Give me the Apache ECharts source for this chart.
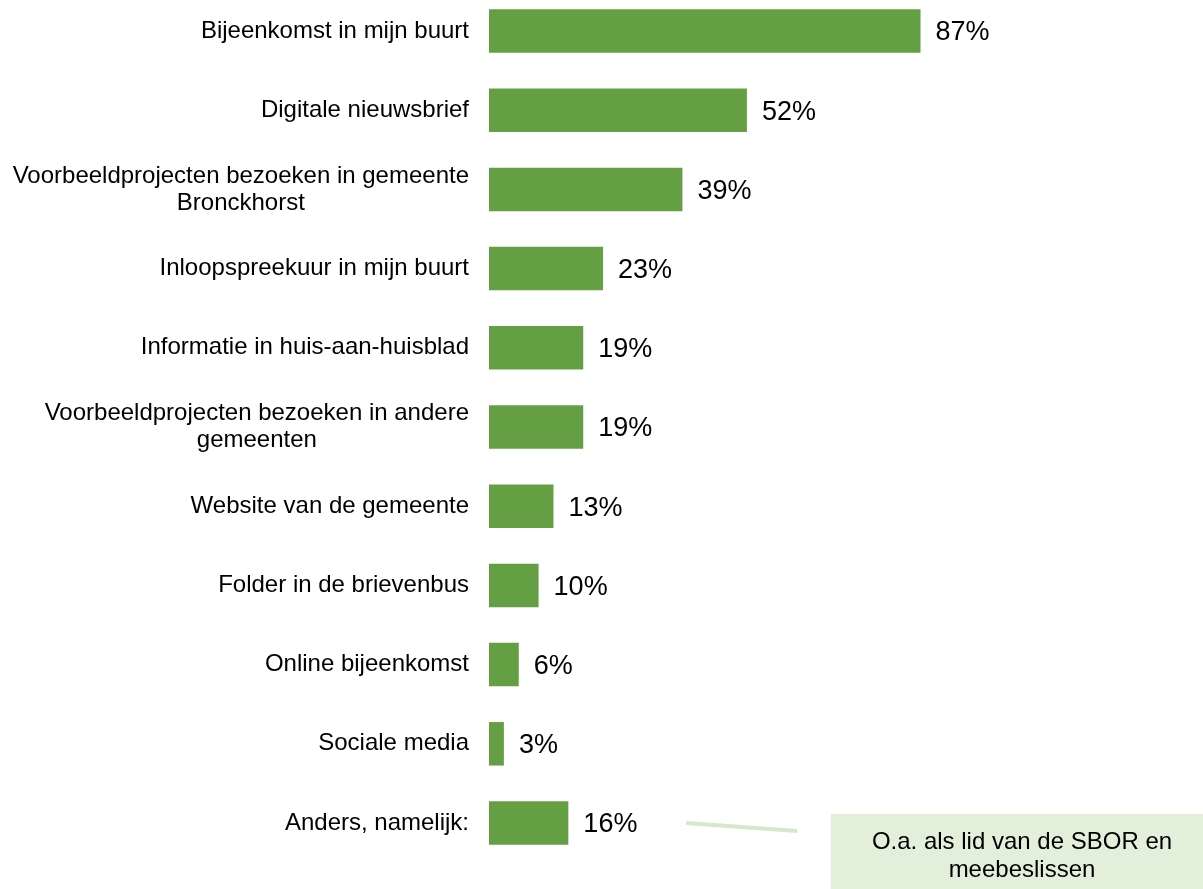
<!DOCTYPE html>
<html>
<head>
<meta charset="utf-8">
<title>Informatievoorkeur</title>
<script src="https://cdn.jsdelivr.net/npm/echarts@6/dist/echarts.min.js"></script>
<style>
  html, body { margin: 0; padding: 0; background: #fff; }
  #chart { width: 1203px; height: 889px; }
</style>
</head>
<body>
<div id="chart"></div>
<script>
  // categories, top to bottom
  var categories = [
    'Bijeenkomst in mijn buurt',
    'Digitale nieuwsbrief',
    'Voorbeeldprojecten bezoeken in gemeente\nBronckhorst',
    'Inloopspreekuur in mijn buurt',
    'Informatie in huis-aan-huisblad',
    'Voorbeeldprojecten bezoeken in andere\ngemeenten',
    'Website van de gemeente',
    'Folder in de brievenbus',
    'Online bijeenkomst',
    'Sociale media',
    'Anders, namelijk:'
  ];
  // percentages
  var percentages = [87, 52, 39, 23, 19, 19, 13, 10, 6, 3, 16];
  var calloutText = 'O.a. als lid van de SBOR en\nmeebeslissen';

  var font = '"Liberation Sans", Arial, sans-serif';
  var green = '#64a043';

  var chart = echarts.init(document.getElementById('chart'));

  var option = {
    animation: false,
    backgroundColor: '#fff',
    grid: {
      left: 489,
      width: 496,
      top: -8.6,
      height: 871.2,
      outerBoundsMode: 'none'
    },
    xAxis: {
      type: 'value',
      min: 0,
      max: 100,
      show: false
    },
    yAxis: {
      type: 'category',
      inverse: true,
      data: categories,
      axisLine: { show: false },
      axisTick: { show: false },
      splitLine: { show: false },
      axisLabel: {
        margin: 20,
        color: '#000',
        fontFamily: font,
        fontSize: 24,
        lineHeight: 27,
        formatter: function (val) {
          // every line centered inside the right-aligned block
          return val.split('\n').map(function (l) {
            return '{c|' + l + '}';
          }).join('\n');
        },
        rich: {
          c: {
            align: 'center',
            color: '#000',
            fontFamily: font,
            fontSize: 24,
            lineHeight: 27
          }
        }
      }
    },
    series: [{
      type: 'bar',
      data: percentages,
      barWidth: 43.5,
      itemStyle: { color: green },
      label: {
        show: true,
        position: 'right',
        distance: 15,
        offset: [0, 2],
        color: '#000',
        fontFamily: font,
        fontSize: 27,
        formatter: '{c}%'
      }
    }],
    graphic: [
      {
        type: 'line',
        shape: { x1: 686, y1: 823, x2: 797, y2: 831 },
        style: { stroke: '#d6e7cc', lineWidth: 4 }
      },
      {
        type: 'rect',
        shape: { x: 831, y: 814, width: 380, height: 80 },
        style: { fill: '#e2efda' }
      },
      {
        type: 'text',
        x: 1022,
        y: 856,
        style: {
          text: calloutText,
          fill: '#000',
          font: '24px ' + font,
          lineHeight: 28,
          align: 'center',
          verticalAlign: 'middle'
        }
      }
    ]
  };

  chart.setOption(option);
</script>
</body>
</html>
